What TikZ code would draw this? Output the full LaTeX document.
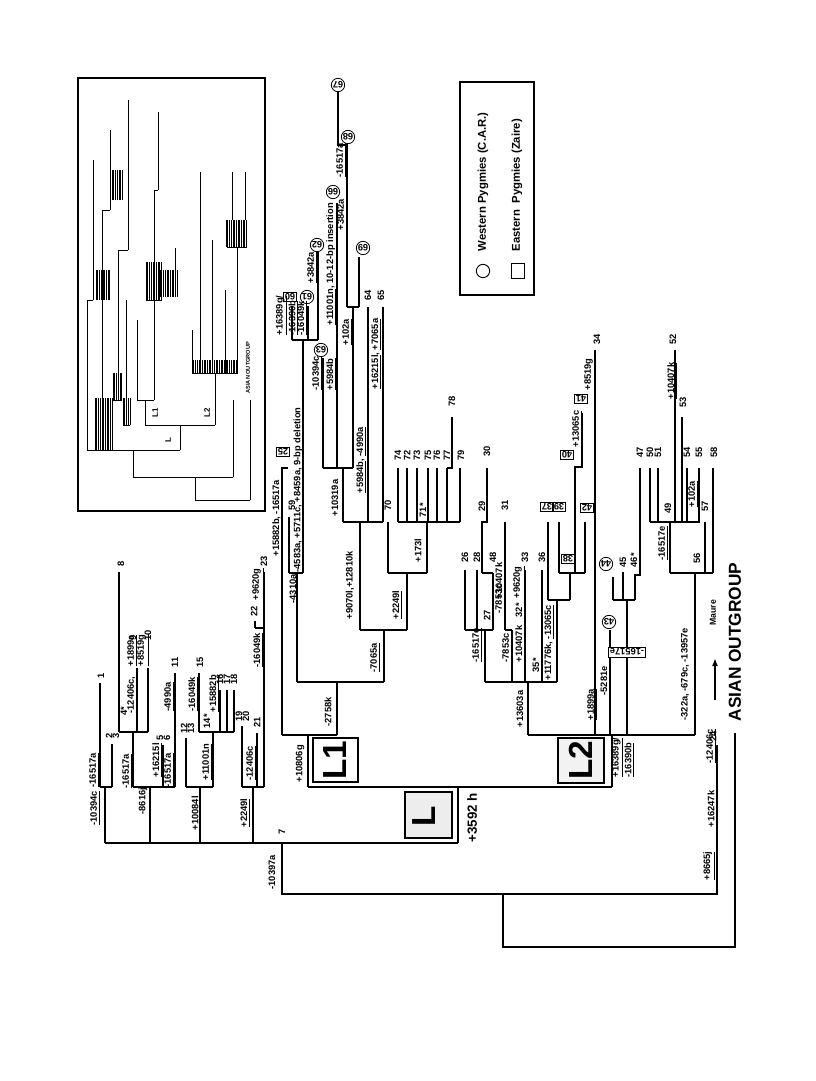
\documentclass[tikz,border=0pt]{standalone}
\usepackage{fontspec}
\setmainfont{Liberation Sans}
\usetikzlibrary{arrows.meta}
\newcounter{lbl}
% rotated label, the bottom end of its text at (x,y)
\newcommand{\lb}[4][]{\stepcounter{lbl}%
  \node[lab,#1] (lb\arabic{lbl}) at (#2,#3) {#4};}
\newcommand{\ul}[1]{\underline{#1}}
\begin{document}
\begin{tikzpicture}[x=0.75pt,y=-0.75pt,
    br/.style={line width=0.85pt},
    thin/.style={line width=0.45pt},
    frame/.style={line width=1.2pt},
    lab/.style={rotate=90,anchor=west,inner sep=0.3pt,
      font=\bfseries\fontsize{7}{7.5}\selectfont},
    cir/.style={lab,anchor=center,circle,draw,line width=0.6pt,
      inner sep=0.3pt,minimum size=9.5pt},
    sq/.style={lab,anchor=center,draw,line width=0.6pt,inner sep=1pt},
    boxed/.style={sq,fill=white,inner sep=1.2pt},
    big/.style={rotate=90,font=\bfseries\fontsize{25}{25}\selectfont},
    lbox/.style={draw,line width=0.8pt}
  ]
\useasboundingbox (0,0) rectangle (816,1081);

% ---- inset: the whole tree in miniature
\draw[frame] (78,78) rectangle (265,511);
\draw[thin] (195,500) -- (250,500) (250,500) -- (250,400)
  (195,500) -- (195,477) (133,477) -- (233,477) (233,477) -- (233,400)
  (133,477) -- (133,450) (87,450) -- (180,450) (180,450) -- (180,425)
  (145,425) -- (215,425) (145,425) -- (145,400) (137,400) -- (154,400)
  (215,425) -- (215,373) (192,373) -- (238,373);
\draw[thin] (87,450) -- (87,300) (102,450) -- (102,210) (118,400) -- (118,250)
  (113,400) -- (122,400) (123,425) -- (130,425) (126,425) -- (126,300)
  (137,400) -- (137,320) (154,400) -- (154,190) (146,300) -- (162,300)
  (192,373) -- (192,330) (200,373) -- (200,172) (212,373) -- (212,240)
  (225,373) -- (225,290) (237,373) -- (237,247) (227,247) -- (247,247)
  (232,220) -- (232,172) (245,220) -- (245,172) (175,297) -- (175,248)
  (118,250) -- (128,250) (128,250) -- (128,100) (110,210) -- (110,130)
  (102,210) -- (110,210) (154,190) -- (158,190) (158,190) -- (158,112)
  (87,300) -- (93,300) (93,300) -- (93,160);
\foreach \i in {0,...,10} \draw[thin] (95+1.7*\i,450) -- (95+1.7*\i,398);
\foreach \i in {0,...,5} \draw[thin] (113+1.7*\i,400) -- (113+1.7*\i,373);
\foreach \i in {0,...,4} \draw[thin] (123+1.7*\i,425) -- (123+1.7*\i,398);
\foreach \i in {0,...,9} \draw[thin] (146+1.7*\i,300) -- (146+1.7*\i,262);
\foreach \i in {0,...,26} \draw[thin] (192+1.7*\i,373) -- (192+1.7*\i,360);
\foreach \i in {0,...,12} \draw[thin] (226+1.7*\i,247) -- (226+1.7*\i,220);
\foreach \i in {0,...,10} \draw[thin] (160+1.7*\i,297) -- (160+1.7*\i,270);
\foreach \i in {0,...,8} \draw[thin] (96+1.7*\i,300) -- (96+1.7*\i,270);
\foreach \i in {0,...,6} \draw[thin] (112+1.7*\i,200) -- (112+1.7*\i,170);
\lb[font=\bfseries\fontsize{6}{6}\selectfont]{155}{418}{L1}
\lb[font=\bfseries\fontsize{6}{6}\selectfont]{207}{418}{L2}
\lb[font=\bfseries\fontsize{6}{6}\selectfont]{168}{443}{L}
\lb[font=\bfseries\fontsize{4.2}{5}\selectfont]{248}{394}{ASIAN OUTGROUP}

% ---- legend
\draw[frame] (460,82) rectangle (534,295);
\draw[line width=0.7pt] (483,271) circle[radius=5pt];
\draw[line width=0.7pt] (511,263) rectangle (524,278);
\lb[font=\bfseries\fontsize{8.5}{9}\selectfont]{483}{252}{Western Pygmies (C.A.R.)}
\lb[font=\bfseries\fontsize{8.5}{9}\selectfont]{517}{252}{Eastern\ \ Pygmies (Zaire)}

% ---- root, outgroup and 24
\draw[br] (503,894) -- (503,947) -- (735,947) -- (735,733);
\draw[br] (282,843) -- (282,894) -- (717,894) -- (717,745);
\lb{272}{890}{-10397a}
\lb{282}{835}{7}
\lb{713}{742}{24}
\lb{711}{764}{\ul{-12406c}}
\lb{711}{828}{+16247k}
\lb{709}{881}{\ul{+8665j}}
\lb[font=\bfseries\fontsize{13}{13}\selectfont]{735}{722}{ASIAN OUTGROUP}
\lb[font=\bfseries\fontsize{6.5}{7}\selectfont]{713}{626}{Maure}
\draw[-{Latex[length=6pt,width=4.5pt]},line width=1.3pt] (715,700) -- (715,658);

% ---- node of 1-23 and L
\draw[br] (105,843) -- (458,843);
\foreach \x in {105,150,200,253} \draw[br] (\x,843) -- (\x,787);
\draw[br] (458,843) -- (458,787) (308,787) -- (612,787);
\draw[lbox,fill=gray!14] (405,792) rectangle (452,838);
\node[big] (bigL) at (424,816) {L};
\lb[font=\bfseries\fontsize{10}{10}\selectfont]{472}{843}{+3592 h}

% ---- haplotypes 1-23
\draw[br] (100,787) -- (112,787) (100,787) -- (100,683) (112,787) -- (112,744);
\draw[br] (133,787) -- (175,787) (133,787) -- (133,732) (119,732) -- (148,732)
  (119,732) -- (119,572) (137,732) -- (137,668) (148,732) -- (148,668)
  (163,787) -- (163,745) (175,787) -- (175,673);
\draw[br] (186,787) -- (213,787) (186,787) -- (186,738) (213,787) -- (213,732)
  (199,732) -- (234,732) (199,732) -- (199,673) (220,732) -- (220,690)
  (227,732) -- (227,690) (234,732) -- (234,690);
\draw[br] (242,787) -- (264,787) (242,787) -- (242,726) (257,787) -- (257,733)
  (264,787) -- (264,572) (255,628) -- (264,628) (255,628) -- (255,621);
\lb{95}{826}{\ul{-10394c}}
\lb{94}{788}{\ul{-16517a}}
\lb{101}{679}{1}
\lb{109}{739}{2} \lb{116}{739}{3}
\lb{143}{815}{-8616j}
\lb{127}{789}{\ul{-16517a}}
\lb{121}{567}{8}
\lb{124}{716}{4*}
\lb{132}{714}{\ul{-12406c},}
\lb{132}{667}{\ul{+1899a}}
\lb{143}{667}{\ul{+8519g}}
\lb{133}{641}{9} \lb{148}{641}{10}
\lb{157}{778}{\ul{+16215l}}
\lb{160}{741}{5} \lb{167}{741}{6}
\lb{169}{788}{\ul{-16517a}}
\lb{169}{712}{\ul{-4990a}}
\lb{175}{668}{11}
\lb{195}{831}{+10084l}
\lb{184}{734}{12} \lb{191}{734}{13}
\lb{193}{712}{\ul{-16049k}}
\lb{200}{668}{15}
\lb{207}{781}{\ul{+11001n}}
\lb{207}{729}{14*}
\lb{214}{713}{\ul{+15882b}}
\lb{220}{685}{16} \lb{227}{685}{17} \lb{234}{685}{18}
\lb{245}{828}{\ul{+2249l}}
\lb{239}{722}{19} \lb{246}{722}{20}
\lb{257}{728}{21}
\lb{251}{781}{\ul{-12406c}}
\lb{258}{668}{\ul{-16049k}}
\lb{254}{617}{22}
\lb{264}{567}{23}
\lb{258}{601}{\ul{+9620g}}

% ---- L1
\draw[lbox,fill=white] (313,738) rectangle (358,782);
\node[big] (bigLone) at (335,760) {L1};
\draw[br] (308,787) -- (308,735) (282,735) -- (337,735)
  (282,735) -- (282,468) -- (288,468)
  (337,735) -- (337,682) (297,682) -- (384,682)
  (297,682) -- (297,573) (289,573) -- (303,573) (289,573) -- (289,517)
  (303,573) -- (303,340) (292,340) -- (318,340) (292,340) -- (292,306)
  (308,340) -- (308,306) (318,340) -- (318,252)
  (384,682) -- (384,630) (360,630) -- (407,630)
  (360,630) -- (360,522) (343,522) -- (383,522)
  (343,522) -- (343,468) (323,468) -- (353,468)
  (323,468) -- (323,358) (337,468) -- (337,203)
  (353,468) -- (353,307) (347,307) -- (359,307)
  (347,307) -- (347,145) -- (338,145) -- (338,92) (359,307) -- (359,257)
  (368,522) -- (368,307) (383,522) -- (383,307)
  (407,630) -- (407,573) (388,573) -- (427,573)
  (388,573) -- (388,522) (427,573) -- (427,522) (398,522) -- (460,522)
  (447,468) -- (452,468) -- (452,417);
\foreach \x in {398,407,417,428,437,447,460} \draw[br] (\x,522) -- (\x,468);
\lb{300}{783}{+10806g}
\lb{328}{727}{-2758k}
\lb{293}{604}{-4310a}
\lb{375}{673}{\ul{-7065a}}
\lb{350}{620}{+9070l,+12810k}
\lb{397}{620}{\ul{+2249l}}
\lb{418}{563}{+173l}
\lb{335}{517}{+10319a}
\lb{361}{494}{\ul{+5984b}, \ul{-4990a}}
\lb{376}{390}{\ul{+16215l}, \ul{+7065a}}
\lb{317}{391}{\ul{-10394c}}
\lb{331}{391}{\ul{+5984b}}
\lb{331}{326}{\ul{+11001n}, 10-12-bp insertion}
\lb{342}{231}{\ul{+3842a}}
\lb{341}{178}{\ul{-16517a}}
\lb{312}{284}{\ul{+3842a}}
\lb{347}{346}{\ul{+102a}}
\lb{298}{573}{-4583a, +5711c, +8459a, 9-bp deletion}
\lb{277}{557}{\ul{+15882b}, \ul{-16517a}}
\lb[align=left]{287}{336}{\ul{+16389g/}\\\ul{-16390b}}
\lb{302}{336}{\ul{-16049k}}
\lb{292}{511}{59}
\lb{388}{511}{70}
\lb{398}{461}{74} \lb{407}{461}{72} \lb{417}{461}{73} \lb{428}{461}{75}
\lb{437}{461}{76} \lb{447}{461}{77} \lb{461}{461}{79}
\lb{452}{407}{78}
\lb{423}{518}{71*}
\lb{368}{301}{64}
\lb{381}{301}{65}
\lb[sq]{283}{452}{25}
\lb[sq]{290}{297}{60}
\lb[cir]{307}{297}{61}
\lb[cir]{317}{245}{62}
\lb[cir]{321}{350}{63}
\lb[cir]{333}{192}{66}
\lb[cir]{338}{85}{67}
\lb[cir]{348}{137}{68}
\lb[cir]{363}{248}{69}

% ---- L2
\draw[lbox,fill=gray!10] (558,738) rectangle (604,783);
\node[big] (bigLtwo) at (581,760) {L2};
\draw[br] (612,787) -- (612,735) (528,735) -- (695,735)
  (528,735) -- (528,682) (485,682) -- (557,682)
  (485,682) -- (485,630) (465,630) -- (493,630)
  (465,630) -- (465,570) (477,630) -- (477,570) (493,630) -- (493,573)
  (482,573) -- (493,573) (482,573) -- (482,522) -- (487,522) -- (487,468)
  (512,682) -- (512,630) (505,630) -- (512,630) (505,630) -- (505,522)
  (525,682) -- (525,570)
  (542,682) -- (542,570)
  (557,682) -- (557,600) (548,600) -- (570,600) (548,600) -- (548,522)
  (570,600) -- (570,573) (559,573) -- (585,573) (559,573) -- (559,522)
  (575,573) -- (575,467) -- (582,467) -- (582,413) (585,573) -- (585,522)
  (595,735) -- (595,350)
  (610,735) -- (610,630)
  (627,735) -- (627,600) (613,600) -- (635,600) (613,600) -- (613,577)
  (623,600) -- (623,572) (635,600) -- (635,575) -- (640,575) -- (640,468)
  (695,735) -- (695,573) (670,573) -- (713,573)
  (670,573) -- (670,522) (650,522) -- (700,522)
  (705,573) -- (705,522) (713,573) -- (713,468);
\foreach \x/\t in {650/468,658/468,675/350,682/417,687/468,699/468}
  \draw[br] (\x,522) -- (\x,\t);
\lb{520}{728}{+13603a}
\lb{477}{663}{\ul{-16517e}}
\lb{465}{563}{26} \lb{477}{563}{28} \lb{493}{563}{48}
\lb{487}{621}{27}
\lb{482}{512}{29}
\lb{487}{457}{30}
\lb{507}{663}{\ul{-7853c}}
\lb{520}{663}{\ul{+10407k}}
\lb{500}{600}{\ul{+10407k}}
\lb{500}{614}{\ul{-7853c}}
\lb{505}{511}{31}
\lb{519}{599}{\ul{+9620g}}
\lb{519}{618}{32*}
\lb{525}{563}{33}
\lb{536}{673}{35*}
\lb{542}{563}{36}
\lb{549}{681}{+11776k, \ul{-13065c}}
\lb[sq]{547}{507}{37}
\lb[sq]{568}{559}{38}
\lb[sq]{559}{507}{39}
\lb[sq]{567}{455}{40}
\lb[sq]{581}{399}{41}
\lb[sq]{587}{508}{42}
\lb{577}{448}{\ul{+13065c}}
\lb{590}{391}{\ul{+8519g}}
\lb{592}{721}{\ul{+1899a}}
\lb{597}{345}{34}
\lb{604}{696}{-5281e}
\lb[cir]{609}{622}{43}
\lb[cir]{606}{564}{44}
\lb[boxed]{627}{652}{-16517e}
\lb{623}{568}{45}
\lb{634}{568}{46*}
\lb{640}{458}{47} \lb{650}{458}{50} \lb{658}{458}{51}
\lb{687}{458}{54} \lb{699}{458}{55} \lb{714}{458}{58}
\lb{673}{345}{52}
\lb{683}{408}{53}
\lb{672}{400}{\ul{+10407k}}
\lb{693}{508}{\ul{+102a}}
\lb{668}{514}{49}
\lb{705}{512}{57}
\lb{697}{564}{56}
\lb{663}{561}{\ul{-16517e}}
\lb{685}{721}{-322a, -679c, -13957e}
\lb[align=left]{623}{778}{\ul{+16389g/}\\\ul{-16390b}}
\end{tikzpicture}
\end{document}
